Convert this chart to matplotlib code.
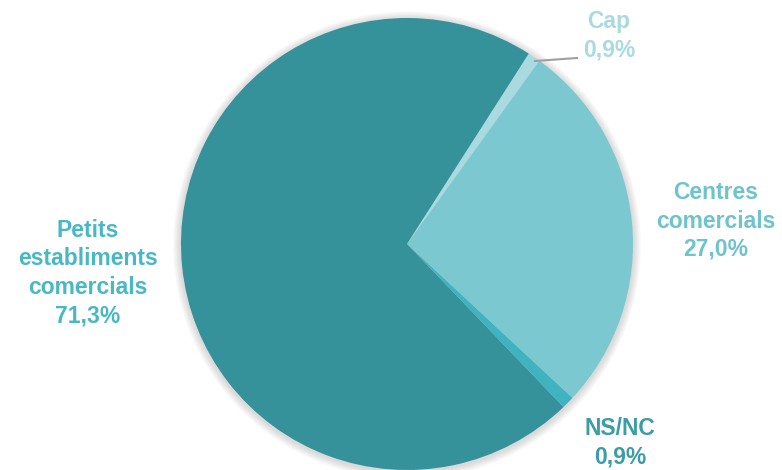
import matplotlib.pyplot as plt
from matplotlib.patches import Circle

plt.rcParams['font.family'] = ['Liberation Sans', 'DejaVu Sans']

# data, in drawing order (clockwise, starting with Cap)
categories = ['Cap', 'Centres\ncomercials', 'NS/NC', 'Petits\nestabliments\ncomercials']
shares = [0.9, 27.0, 0.9, 71.3]
pct_labels = ['0,9%', '27,0%', '0,9%', '71,3%']

slice_colors = ['#A9DAE0', '#7BC8D0', '#3FB3BF', '#35919A']
text_colors = ['#A9DAE0', '#6EC3CC', '#3A9DA8', '#4AB8C4']

W, H = 782, 470
fig = plt.figure(figsize=(W / 100, H / 100), dpi=100)
ax = fig.add_axes([0, 0, 1, 1])

cx, cy, r = 407, H - 244, 226

# soft shadow round the pie
for k in range(8, 0, -1):
    ax.add_patch(Circle((cx, cy - 1.5), r + k, color='#808080', alpha=0.04, lw=0, zorder=0))

ax.pie(shares, colors=slice_colors, startangle=57.4, counterclock=False,
       center=(cx, cy), radius=r, frame=True,
       wedgeprops=dict(linewidth=0))
ax.set_xlim(0, W)
ax.set_ylim(0, H)
ax.set_aspect('equal')
ax.axis('off')

label_pos = [(609, H - 36), (716, H - 221), (620, H - 443), (88, H - 273)]
for name, pct, col, (x, y) in zip(categories, pct_labels, text_colors, label_pos):
    ax.text(x, y, name + '\n' + pct, color=col, fontsize=16.5, fontweight='bold',
            ha='center', va='center', linespacing=1.3)

# leader line for Cap
ax.plot([535, 577], [H - 61, H - 58], color='#A0A0A0', lw=1.5)

fig.savefig('out.png', dpi=100)
